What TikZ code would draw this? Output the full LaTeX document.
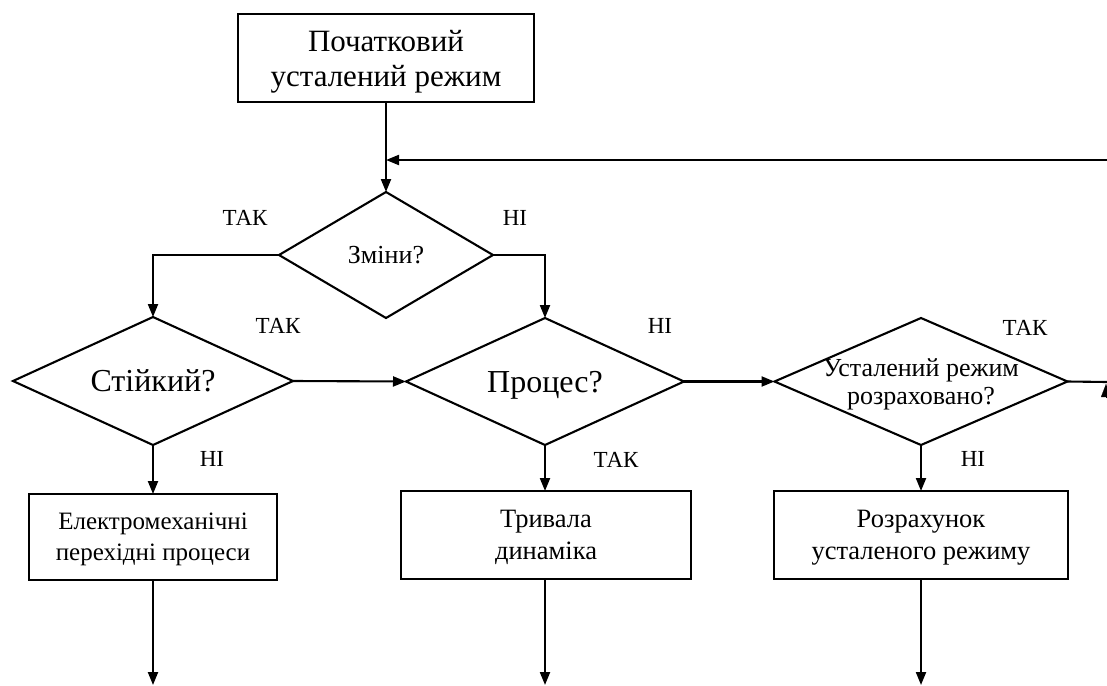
\documentclass[tikz,border=0pt]{standalone}
\usepackage{fontspec}
\setmainfont{Liberation Serif}
\usetikzlibrary{shapes.geometric,arrows.meta}
\begin{document}
\begin{tikzpicture}[x=1pt,y=-1pt,
  line width=2.1pt,
  arr/.style={-{Triangle[length=13pt,width=10pt]}},
  procbox/.style={draw,rectangle,inner sep=0pt,outer sep=0pt,align=center,text depth=0pt},
  decis/.style={draw,diamond,inner sep=0pt,outer sep=0pt},
  dtext/.style={align=center,text depth=0pt,inner sep=0pt},
  lbl/.style={anchor=base,inner sep=0pt,font=\fontsize{23pt}{26pt}\selectfont},
  fbig/.style={font=\fontsize{31pt}{35pt}\selectfont},
  fdbig/.style={font=\fontsize{32pt}{36pt}\selectfont},
  fmid/.style={font=\fontsize{26pt}{28pt}\selectfont},
  fbox/.style={font=\fontsize{26.5pt}{31.5pt}\selectfont},
  fboxs/.style={font=\fontsize{25pt}{31pt}\selectfont}
]
\useasboundingbox (0,0) rectangle (1107,685);

% top box
\node[procbox,fbig,minimum width=296pt,minimum height=88pt] (top) at (386,58) {Початковий\\усталений режим};

% diamonds
\node[decis,minimum width=214pt,minimum height=126pt,label={[dtext,fmid]center:Зміни?}] (z) at (386,255) {};
\node[decis,minimum width=280pt,minimum height=128pt,label={[dtext,fdbig]center:Стійкий?}] (s) at (153,381) {};
\node[decis,minimum width=278pt,minimum height=127pt,label={[dtext,fdbig]center:Процес?}] (p) at (545,381.5) {};
\node[decis,minimum width=293pt,minimum height=127pt,label={[dtext,fmid]center:Усталений режим\\розраховано?}] (u) at (921,381.5) {};

% bottom boxes
\node[procbox,fboxs,minimum width=248pt,minimum height=86pt] (b1) at (153,537) {Електромеханічні\\перехідні процеси};
\node[procbox,fbox,minimum width=290pt,minimum height=88pt] (b2) at (546,535) {Тривала\\динаміка};
\node[procbox,fbox,minimum width=294pt,minimum height=88pt] (b3) at (921,535) {Розрахунок\\усталеного режиму};

% labels
\node[lbl] (l1) at (245,225) {ТАК};
\node[lbl] (l2) at (515,225) {НІ};
\node[lbl] (l3) at (278,333) {ТАК};
\node[lbl] (l4) at (212,466) {НІ};
\node[lbl] (l5) at (660,333) {НІ};
\node[lbl] (l6) at (616,467) {ТАК};
\node[lbl] (l7) at (1025,335) {ТАК};
\node[lbl] (l8) at (973,466) {НІ};

% free ends
\coordinate (fb) at (1107,160);
\coordinate (ue) at (1107,382);
\coordinate (upa) at (1106,398);
\coordinate (upb) at (1106,384);
\coordinate (e1) at (153,685);
\coordinate (e2) at (545,685);
\coordinate (e3) at (921,685);

% connectors
\draw[arr] (top.south) -- (z.north);
\draw[arr] (fb) -- (top.south |- fb);
\draw[arr] (z.west) -| (s.north);
\draw[arr] (z.east) -| (p.north);
\draw[arr] (s.east) -- (p.west);
\draw[arr] (p.east) -- (u.west);
\draw (u.east) -- (ue);
\draw[arr,line width=0.1pt] (upa) -- (upb);
\draw[arr] (s.south) -- (s.south |- b1.north);
\draw[arr] (p.south) -- (p.south |- b2.north);
\draw[arr] (u.south) -- (u.south |- b3.north);
\draw[arr] (b1.south) -- (e1);
\draw[arr] (b2.south -| p.south) -- (e2);
\draw[arr] (b3.south -| u.south) -- (e3);
\end{tikzpicture}
\end{document}
